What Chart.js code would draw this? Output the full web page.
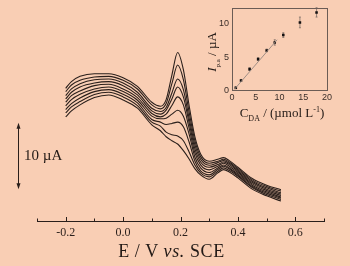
<!DOCTYPE html>
<html>
<head>
<meta charset="utf-8">
<script src="https://cdn.jsdelivr.net/npm/chart.js@4"></script>
<style>
  html, body { margin: 0; padding: 0; }
  body { width: 350px; height: 266px; background: #f9ceb4; position: relative; overflow: hidden; font-family: "Liberation Serif", serif; color: #231a16; }
  #mainChart { position: absolute; left: 0; top: 0; }
  #insetChart { position: absolute; left: 200px; top: 0; }
  .lbl { position: absolute; white-space: nowrap; }
  #xTitle { left: 0; width: 343px; top: 241px; text-align: center; font-size: 18px; letter-spacing: 0.6px; }
  #barLabel { left: 24px; top: 147px; font-size: 15px; }
  #insetY { left: 213px; top: 52px; font-size: 13px; transform: translate(-50%, -50%) rotate(-90deg); }
  #insetY sub { font-size: 7px; }
  #insetX { left: 282px; top: 114px; font-size: 13px; transform: translate(-50%, -50%); }
  #insetX sub { font-size: 8px; }
  #insetX sup { font-size: 8px; }
</style>
</head>
<body>
<canvas id="mainChart" width="350" height="266"></canvas>
<canvas id="insetChart" width="150" height="125"></canvas>
<div class="lbl" id="xTitle">E / V <i>vs.</i> SCE</div>
<div class="lbl" id="barLabel">10 µA</div>
<div class="lbl" id="insetY"><i>I</i><sub>p.a</sub> / µA</div>
<div class="lbl" id="insetX">C<sub>DA</sub> / (µmol L<sup>-1</sup>)</div>
<script>
// potential axis (V vs SCE)
const potential = [-0.2, -0.18, -0.15, -0.1, -0.05, 0.0, 0.05, 0.1, 0.13, 0.15, 0.17, 0.19, 0.21, 0.23, 0.25, 0.27, 0.3, 0.33, 0.35, 0.37, 0.4, 0.45, 0.5, 0.55];

// DPV scans, current in µA (offset), top scan first
const scan1 = [20.0, 21.0, 21.8, 22.2, 22.2, 21.6, 20.3, 17.9, 17.3, 18.3, 22.0, 25.4, 22.8, 17.4, 12.7, 10.1, 9.0, 9.3, 9.55, 9.1, 8.1, 6.4, 5.4, 4.7];
const scan2 = [19.5, 20.5, 21.2, 21.7, 21.8, 21.2, 19.9, 17.5, 16.9, 17.7, 20.7, 23.5, 21.3, 16.4, 12.1, 9.7, 8.7, 9.0, 9.3, 8.9, 7.9, 6.2, 5.2, 4.5];
const scan3 = [18.9, 19.9, 20.7, 21.3, 21.4, 20.8, 19.4, 17.0, 16.5, 17.1, 19.3, 21.4, 19.8, 15.5, 11.5, 9.3, 8.4, 8.8, 9.1, 8.7, 7.7, 6.0, 5.0, 4.25];
const scan4 = [18.4, 19.4, 20.2, 20.8, 21.0, 20.4, 19.0, 16.6, 16.1, 16.7, 18.4, 20.2, 18.7, 14.8, 10.9, 8.9, 8.1, 8.5, 8.9, 8.5, 7.5, 5.8, 4.8, 4.05];
const scan5 = [17.9, 18.9, 19.6, 20.4, 20.6, 19.9, 18.6, 16.2, 15.7, 16.1, 17.4, 18.7, 17.5, 14.0, 10.3, 8.45, 7.7, 8.25, 8.7, 8.25, 7.3, 5.6, 4.6, 3.85];
const scan6 = [17.35, 18.3, 19.1, 19.9, 20.2, 19.5, 18.2, 15.8, 15.4, 15.5, 16.1, 16.7, 15.8, 13.1, 9.65, 8.0, 7.3, 8.0, 8.45, 8.0, 7.1, 5.4, 4.4, 3.6];
const scan7 = [16.8, 17.7, 18.55, 19.5, 19.8, 19.1, 17.8, 15.3, 14.9, 14.55, 14.7, 14.9, 14.2, 11.9, 9.05, 7.55, 6.95, 7.75, 8.25, 7.85, 6.9, 5.2, 4.2, 3.45];
const scan8 = [16.3, 17.2, 18.0, 19.05, 19.4, 18.7, 17.4, 14.9, 14.3, 13.4, 13.0, 12.8, 12.1, 10.4, 8.45, 7.25, 6.65, 7.5, 8.0, 7.6, 6.75, 5.05, 4.0, 3.25];
const scan9 = [15.7, 16.6, 17.5, 18.6, 19.0, 18.25, 17.0, 14.5, 13.6, 12.7, 12.1, 11.6, 10.6, 9.35, 7.9, 6.95, 6.3, 7.25, 7.75, 7.4, 6.5, 4.8, 3.8, 3.0];
const scans = [scan1, scan2, scan3, scan4, scan5, scan6, scan7, scan8, scan9];

// 10 µA scale bar (µA)
const barBottom = 4.8;
const barTop = 14.8;

// inset: calibration
const conc = [0.8, 1.9, 3.7, 5.5, 7.3, 9.0, 10.8, 14.3, 17.8];
const peakCurrent = [0.4, 1.5, 3.2, 4.7, 6.0, 7.2, 8.3, 10.2, 11.7];
const peakErr = [0.15, 0.15, 0.2, 0.2, 0.2, 0.4, 0.35, 0.8, 0.7];
const fitX = [0.5, 9.5];
const fitY = [0.17, 7.6];

const ink = "#2a1f1b";

const xTickMarks = {
  id: "xTickMarks",
  afterDraw(chart) {
    const ctx = chart.ctx, xs = chart.scales.x, base = chart.chartArea.bottom;
    ctx.save();
    ctx.strokeStyle = ink;
    ctx.lineWidth = 1;
    xs.ticks.forEach(t => {
      const px = Math.round(xs.getPixelForValue(t.value)) + 0.5;
      const major = Math.round(t.value * 10) % 2 === 0;
      ctx.beginPath();
      ctx.moveTo(px, base);
      ctx.lineTo(px, base - (major ? 4 : 2.5));
      ctx.stroke();
    });
    ctx.restore();
  }
};

const scaleBar = {
  id: "scaleBar",
  afterDraw(chart) {
    const ctx = chart.ctx, ys = chart.scales.y;
    const x = 18.5;
    const y1 = ys.getPixelForValue(barTop), y2 = ys.getPixelForValue(barBottom);
    ctx.save();
    ctx.strokeStyle = ink;
    ctx.fillStyle = ink;
    ctx.lineWidth = 1;
    ctx.beginPath();
    ctx.moveTo(x, y1 + 2);
    ctx.lineTo(x, y2 - 2);
    ctx.stroke();
    ctx.beginPath();
    ctx.moveTo(x, y1); ctx.lineTo(x - 2, y1 + 6); ctx.lineTo(x + 2, y1 + 6); ctx.closePath();
    ctx.fill();
    ctx.beginPath();
    ctx.moveTo(x, y2); ctx.lineTo(x - 2, y2 - 6); ctx.lineTo(x + 2, y2 - 6); ctx.closePath();
    ctx.fill();
    ctx.restore();
  }
};

new Chart(document.getElementById("mainChart"), {
  type: "line",
  data: {
    datasets: scans.map(s => ({
      data: potential.map((e, i) => ({ x: e, y: s[i] })),
      borderColor: ink,
      borderWidth: 1.1,
      pointRadius: 0,
      cubicInterpolationMode: "monotone",
      fill: false
    }))
  },
  options: {
    responsive: false,
    animation: false,
    devicePixelRatio: 1,
    layout: { padding: { left: 37, right: 26, top: 10, bottom: 0 } },
    plugins: { legend: { display: false }, tooltip: { enabled: false } },
    scales: {
      x: {
        type: "linear",
        min: -0.3,
        max: 0.7,
        afterFit: s => { s.height = 45; },
        grid: { display: false, drawTicks: false },
        border: { display: true, color: ink, width: 1 },
        ticks: {
          stepSize: 0.1,
          autoSkip: false,
          maxRotation: 0,
          padding: 5,
          color: ink,
          font: { family: "Liberation Serif", size: 12 },
          callback: v => {
            const r = Math.round(v * 10);
            return r % 2 === 0 ? (r / 10).toFixed(1) : "";
          }
        }
      },
      y: { display: false, min: 0, max: 31.8 }
    }
  },
  plugins: [xTickMarks, scaleBar]
});

const errorBars = {
  id: "errorBars",
  beforeDatasetsDraw(chart) {
    const ctx = chart.ctx, xs = chart.scales.x, ys = chart.scales.y;
    ctx.save();
    ctx.strokeStyle = "#7d6e66";
    ctx.lineWidth = 0.8;
    conc.forEach((c, i) => {
      const px = xs.getPixelForValue(c);
      const a = ys.getPixelForValue(peakCurrent[i] + peakErr[i]);
      const b = ys.getPixelForValue(peakCurrent[i] - peakErr[i]);
      ctx.beginPath();
      ctx.moveTo(px, a); ctx.lineTo(px, b);
      ctx.moveTo(px - 1, a); ctx.lineTo(px + 1, a);
      ctx.moveTo(px - 1, b); ctx.lineTo(px + 1, b);
      ctx.stroke();
    });
    ctx.restore();
  },
  afterDraw(chart) {
    const ctx = chart.ctx, a = chart.chartArea;
    ctx.save();
    ctx.strokeStyle = "#6b5c55";
    ctx.lineWidth = 1;
    ctx.strokeRect(Math.round(a.left) + 0.5, Math.round(a.top) + 0.5, Math.round(a.right - a.left), Math.round(a.bottom - a.top));
    ctx.restore();
  }
};

new Chart(document.getElementById("insetChart"), {
  type: "line",
  data: {
    datasets: [
      {
        data: fitX.map((x, i) => ({ x, y: fitY[i] })),
        borderColor: "#a08f86",
        borderWidth: 1,
        pointRadius: 0
      },
      {
        data: conc.map((c, i) => ({ x: c, y: peakCurrent[i] })),
        showLine: false,
        pointStyle: "rect",
        pointRadius: 1.8,
        backgroundColor: "#141010",
        borderColor: "#141010",
        borderWidth: 0
      }
    ]
  },
  options: {
    responsive: false,
    animation: false,
    devicePixelRatio: 1,
    layout: { padding: { left: 0, right: 23, top: 8, bottom: 0 } },
    plugins: { legend: { display: false }, tooltip: { enabled: false } },
    scales: {
      x: {
        type: "linear",
        min: 0,
        max: 20,
        afterFit: s => { s.height = 34.5; },
        grid: { display: false, drawTicks: false },
        border: { display: false },
        ticks: { stepSize: 5, padding: 2, color: "#3a2e29", font: { family: "Liberation Sans", size: 9 } }
      },
      y: {
        min: 0,
        max: 12.3,
        afterFit: s => { s.width = 32; },
        grid: { display: false, drawTicks: false },
        border: { display: false },
        ticks: {
          stepSize: 5,
          padding: 3,
          color: "#3a2e29",
          font: { family: "Liberation Sans", size: 9 },
          callback: v => (v % 5 === 0 ? v : "")
        }
      }
    }
  },
  plugins: [errorBars]
});
</script>
</body>
</html>
